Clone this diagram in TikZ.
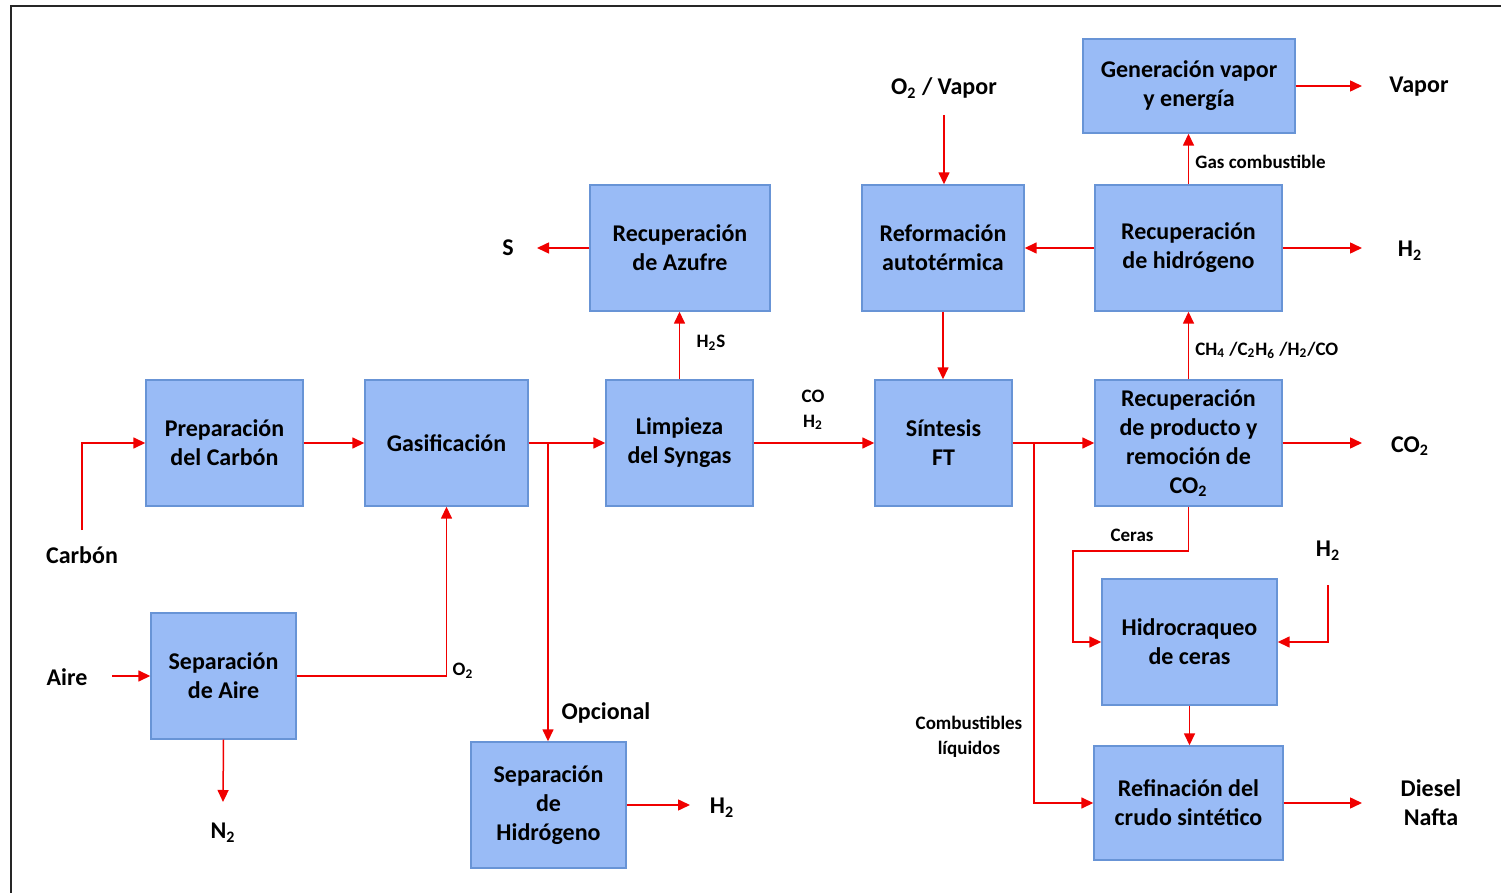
\documentclass[tikz,border=0pt]{standalone}
\usepackage{fontspec}
\setmainfont{Carlito}
\usetikzlibrary{arrows.meta}
\definecolor{boxfill}{RGB}{153,187,246}
\definecolor{boxdraw}{RGB}{104,148,214}
\definecolor{arrred}{RGB}{240,0,0}
\newcommand{\sbs}[1]{\textsubscript{#1}}
\tikzset{
  box/.style={draw=boxdraw, fill=boxfill, line width=0.7pt, inner sep=0pt, align=center,
     font=\fontsize{12}{14.5}\selectfont\bfseries},
  big/.style={inner sep=0pt, align=center, font=\fontsize{12}{14.5}\selectfont\bfseries},
  small/.style={inner sep=0pt, align=center, font=\fontsize{9.5}{12.5}\selectfont\bfseries},
  arr/.style={draw=arrred, line width=0.75pt, -{Triangle[length=6pt,width=5.5pt]}, arrred},
  ln/.style={draw=arrred, line width=0.75pt}
}
\begin{document}
\begin{tikzpicture}[x=0.5pt,y=-0.5pt]
\useasboundingbox (0,0) rectangle (1501,893);
\draw[line width=1pt, black!85] (11,900) -- (11,6) -- (1510,6);
% boxes
\node[box, minimum width=78.5pt, minimum height=63pt] (prep) at (224.5,443) {Preparación\\del Carbón};
\node[box, minimum width=81.5pt, minimum height=63pt] (gas) at (446.5,443) {Gasificación};
\node[box, minimum width=73.5pt, minimum height=63pt] (limp) at (679.5,443) {Limpieza\\del Syngas};
\node[box, minimum width=90pt, minimum height=63pt] (azu) at (680,248) {Recuperación\\de Azufre};
\node[box, minimum width=68.5pt, minimum height=63pt] (sint) at (943.5,443) {Síntesis\\FT};
\node[box, minimum width=81pt, minimum height=63pt] (refor) at (943,248) {Reformación\\autotérmica};
\node[box, minimum width=93.5pt, minimum height=63pt] (rech) at (1188.5,248) {Recuperación\\de hidrógeno};
\node[box, minimum width=106pt, minimum height=47pt] (gen) at (1189,86) {Generación vapor\\y energía};
\node[box, minimum width=93.5pt, minimum height=63pt] (recp) at (1188.5,443) {Recuperación\\de producto y\\remoción de\\CO\sbs{2}};
\node[box, minimum width=87.5pt, minimum height=63pt] (hidro) at (1189.5,642) {Hidrocraqueo\\de ceras};
\node[box, minimum width=94.5pt, minimum height=57pt] (refin) at (1188.5,803) {Refinación del\\crudo sintético};
\node[box, minimum width=72.5pt, minimum height=63pt] (sepa) at (223.5,676) {Separación\\de Aire};
\node[box, minimum width=77.5pt, minimum height=63pt] (seph) at (548.5,805) {Separación\\de\\Hidrógeno};
% big labels
\node[big] (carbon) at (82,555) {Carbón};
\node[big] (aire) at (67,677) {Aire};
\node[big] (n2) at (223,833) {N\sbs{2}};
\node[big] (opc) at (606,713) {Opcional};
\node[big] (h2a) at (722,808) {H\sbs{2}};
\node[big] (s) at (508,248) {S};
\node[big] (o2v) at (944,88) {O\sbs{2} / Vapor};
\node[big] (vapor) at (1419,87) {Vapor};
\node[big] (h2b) at (1410,251) {H\sbs{2}};
\node[big] (co2) at (1410,446) {CO\sbs{2}};
\node[big] (h2c) at (1328,551) {H\sbs{2}};
\node[big] (dn) at (1431,803) {Diesel\\Nafta};
% small labels
\node[small] (h2s) at (711,343) {H\sbs{2}S};
\node[small] (coh2) at (813,410) {CO\\H\sbs{2}};
\node[small] (o2) at (463,671) {O\sbs{2}};
\node[small, anchor=west] (gc) at (1195,162) {Gas combustible};
\node[small, anchor=west] (ch4) at (1195,350) {CH\sbs{4} /C\sbs{2}H\sbs{6} /H\sbs{2}/CO};
\node[small] (ceras) at (1132,535) {Ceras};
\node[small] (comb) at (969,737) {Combustibles\\líquidos};
% coordinates
\coordinate (cs) at (82,530);
\coordinate (ae) at (112,676);
\coordinate (n2e) at (223,802);
\coordinate (b1) at (548,443);
\coordinate (h2ae) at (690,805);
\coordinate (se) at (537,248);
\coordinate (o2s) at (944,115);
\coordinate (vape) at (1362,86);
\coordinate (h2be) at (1362,248);
\coordinate (co2e) at (1362,443);
\coordinate (cb) at (1034,443);
\coordinate (c1) at (1189,551);
\coordinate (c2) at (1073,551);
\coordinate (h2cs) at (1328,585);
\coordinate (dne) at (1362,803);
% connectors
\draw[arr] (cs) |- (prep.west);
\draw[arr] (prep.east) -- (gas.west);
\draw[arr] (gas.east) -- (limp.west);
\draw[arr] (b1) -- (b1 |- seph.north);
\draw[arr] (seph.east |- h2ae) -- (h2ae);
\draw[arr] (limp.north) -- (limp.north |- azu.south);
\draw[arr] (azu.west) -- (se);
\draw[arr] (limp.east) -- (sint.west);
\draw[arr] (o2s) -- (o2s |- refor.north);
\draw[arr] (rech.west) -- (refor.east);
\draw[arr] (refor.south) -- (refor.south |- sint.north);
\draw[arr] (sint.east) -- (recp.west);
\draw[arr] (cb) |- (refin.west);
\draw[arr] (recp.north) -- (rech.south);
\draw[arr] (rech.north) -- (rech.north |- gen.south);
\draw[arr] (gen.east) -- (vape);
\draw[arr] (rech.east) -- (h2be);
\draw[arr] (recp.east) -- (co2e);
\draw[arr] (recp.south) -- (recp.south |- c1) -- (c2) |- (hidro.west);
\draw[arr] (h2cs) |- (hidro.east);
\draw[arr] (hidro.south) -- (hidro.south |- refin.north);
\draw[arr] (refin.east) -- (dne);
\draw[arr] (ae) -- (sepa.west);
\draw[arr] (sepa.east) -| (gas.south);
\draw[arr] (sepa.south) -- (n2e);
\end{tikzpicture}
\end{document}
